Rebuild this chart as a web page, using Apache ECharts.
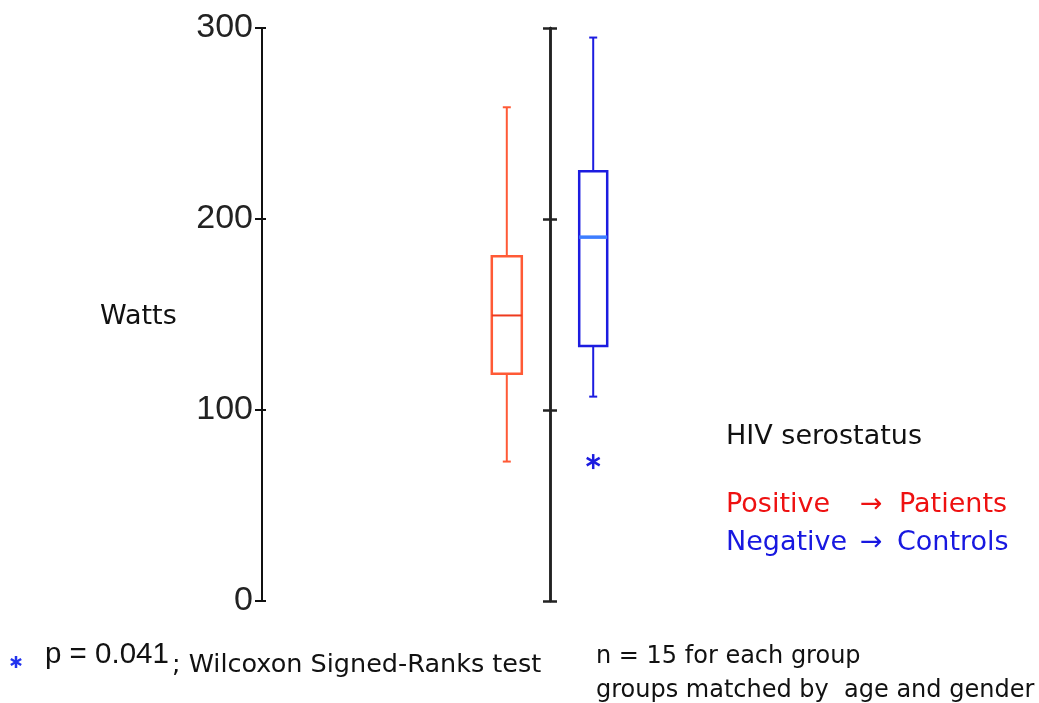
<!DOCTYPE html>
<html>
<head>
<meta charset="utf-8">
<script src="https://cdn.jsdelivr.net/npm/echarts@6/dist/echarts.min.js"></script>
<style>
html,body{margin:0;padding:0;background:#fff;}
#chart{width:1039px;height:703px;}
</style>
</head>
<body>
<div id="chart"></div>
<script>
// ---- data ----
const groups = ['Positive (Patients)', 'Negative (Controls)'];
const whiskerLow = [73, 107];
const q1 = [119, 133.5];
const median = [149.5, 190.5];
const q3 = [180.5, 225];
const whiskerHigh = [258.5, 295];
const outlierGroup = [1];
const outlierValue = [73];
const yTicks = [0, 100, 200, 300];

// ---- layout / style ----
const boxX = [40.8, 55.2];          // x positions on hidden 0..100 axis
const midAxisX = 48;
const boxHalf = [15, 14];
const boxColor = ['#ff5a36', '#1c1ce0'];
const medColor = ['#ee3a1e', '#3d7dff'];
const medWidth = [2, 3.5];
const SANS = '"Liberation Sans", Arial, sans-serif';
const DJV = '"DejaVu Sans", Verdana, sans-serif';

const boxData = groups.map((g, i) => [i, whiskerLow[i], q1[i], median[i], q3[i], whiskerHigh[i]]);
const outData = outlierGroup.map((g, i) => [g, outlierValue[i]]);

const chart = echarts.init(document.getElementById('chart'));

function asterisk(cx, cy, r, color, lw) {
  const children = [];
  for (let k = 0; k < 3; k++) {
    const a = Math.PI / 2 + k * Math.PI / 3;
    children.push({type: 'line', shape: {
      x1: cx + r * Math.cos(a), y1: cy - r * Math.sin(a),
      x2: cx - r * Math.cos(a), y2: cy + r * Math.sin(a)}, style: {stroke: color, lineWidth: lw}});
  }
  return children;
}

function renderBox(params, api) {
  const i = api.value(0);
  const x = boxX[i];
  const c = boxColor[i];
  const h = boxHalf[i];
  const pLow = api.coord([x, api.value(1)]);
  const pQ1 = api.coord([x, api.value(2)]);
  const pMed = api.coord([x, api.value(3)]);
  const pQ3 = api.coord([x, api.value(4)]);
  const pHigh = api.coord([x, api.value(5)]);
  const cx = pLow[0];
  const ls = {stroke: c, lineWidth: 2, fill: null};
  return {
    type: 'group',
    children: [
      {type: 'line', shape: {x1: cx, y1: pHigh[1], x2: cx, y2: pQ3[1]}, style: ls},
      {type: 'line', shape: {x1: cx, y1: pQ1[1], x2: cx, y2: pLow[1]}, style: ls},
      {type: 'line', shape: {x1: cx - 4, y1: pHigh[1], x2: cx + 4, y2: pHigh[1]}, style: ls},
      {type: 'line', shape: {x1: cx - 4, y1: pLow[1], x2: cx + 4, y2: pLow[1]}, style: ls},
      {type: 'rect', shape: {x: cx - h, y: pQ3[1], width: 2 * h, height: pQ1[1] - pQ3[1]},
        style: {stroke: c, lineWidth: 2.5, fill: '#fff'}},
      {type: 'line', shape: {x1: cx - h, y1: pMed[1], x2: cx + h, y2: pMed[1]},
        style: {stroke: medColor[i], lineWidth: medWidth[i]}}
    ]
  };
}

function renderOutlier(params, api) {
  const i = api.value(0);
  const p = api.coord([boxX[i], api.value(1)]);
  return {type: 'group', children: asterisk(p[0], p[1], 7.5, boxColor[i], 2.5)};
}

const axisCommon = {
  type: 'value', min: 0, max: 300, interval: 100,
  splitLine: {show: false},
  axisLine: {show: true, lineStyle: {color: '#111', width: 2}}
};

chart.setOption({
  animation: false,
  backgroundColor: '#fff',
  grid: {left: 262, top: 28, width: 600, bottom: 102},
  xAxis: {type: 'value', min: 0, max: 100, show: false},
  yAxis: [
    Object.assign({}, axisCommon, {
      position: 'left',
      axisTick: {show: true, length: 7, lineStyle: {color: '#111', width: 2}},
      axisLabel: {show: true, color: '#222', fontSize: 34, fontFamily: SANS, margin: 9,
        padding: [8, 0, 0, 0]}
    }),
    Object.assign({}, axisCommon, {
      position: 'left',
      axisTick: {show: true, inside: true, length: 4, lineStyle: {color: '#111', width: 2}},
      axisLabel: {show: false}
    }),
    Object.assign({}, axisCommon, {
      position: 'left', offset: -(midAxisX * 6),
      axisLine: {show: true, lineStyle: {color: '#222', width: 2.5}},
      axisTick: {show: true, length: 7, lineStyle: {color: '#222', width: 2.5}},
      axisLabel: {show: false}
    }),
    Object.assign({}, axisCommon, {
      position: 'left', offset: -(midAxisX * 6),
      axisLine: {show: true, lineStyle: {color: '#222', width: 2.5}},
      axisTick: {show: true, inside: true, length: 7, lineStyle: {color: '#222', width: 2.5}},
      axisLabel: {show: false}
    })
  ],
  series: [
    {type: 'custom', renderItem: renderBox, data: boxData, clip: false,
      encode: {x: 0, y: [1, 2, 3, 4, 5]}},
    {type: 'custom', renderItem: renderOutlier, data: outData, clip: false,
      encode: {x: 0, y: 1}}
  ],
  graphic: [
    {type: 'text', left: 100, top: 303, style: {text: 'Watts', font: '27px ' + DJV, fill: '#111'}},
    {type: 'text', left: 726, top: 423, style: {text: 'HIV serostatus', font: '27px ' + DJV, fill: '#111'}},
    {type: 'text', left: 726, top: 491, style: {text: 'Positive', font: '27px ' + DJV, fill: '#ee1111'}},
    {type: 'text', left: 860, top: 491, style: {text: '\u2192', font: '27px ' + DJV, fill: '#ee1111'}},
    {type: 'text', left: 899, top: 491, style: {text: 'Patients', font: '27px ' + DJV, fill: '#ee1111'}},
    {type: 'text', left: 726, top: 529, style: {text: 'Negative', font: '27px ' + DJV, fill: '#1818e0'}},
    {type: 'text', left: 860, top: 529, style: {text: '\u2192', font: '27px ' + DJV, fill: '#1818e0'}},
    {type: 'text', left: 897, top: 529, style: {text: 'Controls', font: '27px ' + DJV, fill: '#1818e0'}},
    {type: 'group', children: asterisk(16, 662, 6, '#2233ee', 2.5)},
    {type: 'text', left: 45, top: 640, style: {text: 'p = 0.041', font: '29.5px ' + SANS, fill: '#111'}},
    {type: 'text', left: 172, top: 652, style: {text: '; Wilcoxon Signed-Ranks test', font: '25.5px ' + DJV, fill: '#111'}},
    {type: 'text', left: 596, top: 645, style: {text: 'n = 15 for each group', font: '24px ' + DJV, fill: '#111'}},
    {type: 'text', left: 596, top: 679, style: {text: 'groups matched by  age and gender', font: '24px ' + DJV, fill: '#111'}}
  ]
});
</script>
</body>
</html>
